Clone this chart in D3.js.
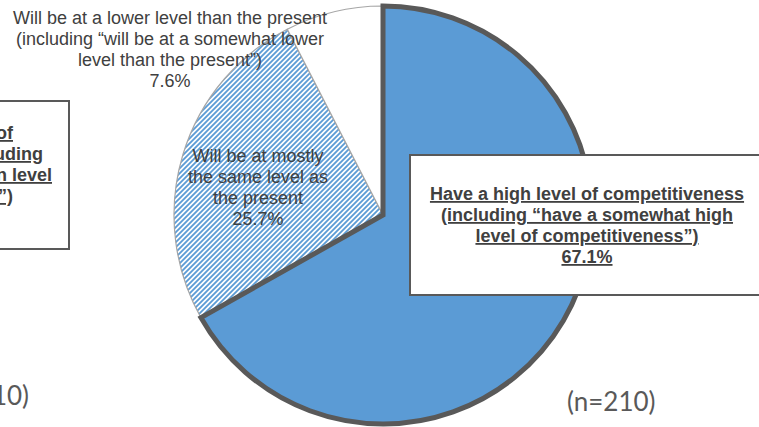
<!DOCTYPE html>
<html>
<head>
<meta charset="utf-8">
<script src="https://cdn.jsdelivr.net/npm/d3@7/dist/d3.min.js"></script>
<style>
  html, body { margin: 0; padding: 0; background: #fff; }
  svg { display: block; }
  text { font-family: "Liberation Sans", Arial, sans-serif; }
</style>
</head>
<body>
<svg id="chart" width="759" height="427"></svg>
<script>
// ---- data ----
const categories = [
  "Have a high level of competitiveness",
  "Will be at mostly the same level as the present",
  "Will be at a lower level than the present"
];
const values = [67.1, 25.7, 7.6];
const sampleLabel = "(n=210)";

const highLabelLines = [
  "Have a high level of competitiveness",
  "(including \u201chave a somewhat high",
  "level of competitiveness\u201d)",
  "67.1%"
];
const sameLabelLines = [
  "Will be at mostly",
  "the same level as",
  "the present",
  "25.7%"
];
const lowerLabelLines = [
  "Will be at a lower level than the present",
  "(including \u201cwill be at a somewhat lower",
  "level than the present\u201d)",
  "7.6%"
];
// fragments of the neighbouring (cropped) chart on the left
const leftBoxFragments = ["of", "uding", "n level", "\u201d)"];

// ---- drawing ----
const svg = d3.select("#chart");
const defs = svg.append("defs");
const pat = defs.append("pattern")
  .attr("id", "hatch")
  .attr("patternUnits", "userSpaceOnUse")
  .attr("width", 5).attr("height", 5);
pat.append("rect").attr("width", 5).attr("height", 5).attr("fill", "#fff");
pat.append("path")
  .attr("d", "M-1,1 l2,-2 M0,5 l5,-5 M4,6 l2,-2")
  .attr("stroke", "#5B9BD5").attr("stroke-width", 1.8);

const cx = 383, cy = 215, r = 209;
const pie = d3.pie().sort(null).value(d => d)(values);
const arc = d3.arc().innerRadius(0).outerRadius(r);

const fills = ["#5B9BD5", "url(#hatch)", "#ffffff"];
const g = svg.append("g").attr("transform", `translate(${cx},${cy})`);

// draw non-highlighted slices first, then the highlighted one on top
const order = [1, 2, 0];
order.forEach(i => {
  g.append("path")
    .attr("d", arc(pie[i]))
    .attr("fill", fills[i])
    .attr("stroke", i === 0 ? "#595959" : "#a6a6a6")
    .attr("stroke-width", i === 0 ? 5 : 1.2)
    .attr("stroke-linejoin", "miter");
});

function multiLine(lines, x, y0, dy, opts) {
  const t = svg.append("text")
    .attr("text-anchor", opts.anchor || "middle")
    .attr("fill", opts.color || "#404040")
    .attr("font-size", opts.size || 18)
    .attr("font-weight", opts.bold ? "bold" : "normal")
    .style("text-decoration", opts.underline ? "underline" : "none");
  lines.forEach((l, i) => {
    t.append("tspan").attr("x", x).attr("y", y0 + i * dy).text(l);
  });
  return t;
}

// lower-level label (top left of pie)
multiLine(lowerLabelLines, 170, 24, 21, {});
// same-level label (on hatched slice)
multiLine(sameLabelLines, 258, 162, 21, {});

// highlighted box
svg.append("rect")
  .attr("x", 410).attr("y", 155)
  .attr("width", 370).attr("height", 140)
  .attr("fill", "#fff")
  .attr("stroke", "#595959").attr("stroke-width", 2);
multiLine(highLabelLines, 587, 200, 21, { bold: true, underline: true });

// left cropped box from neighbouring chart
svg.append("rect")
  .attr("x", -20).attr("y", 101)
  .attr("width", 89).attr("height", 148)
  .attr("fill", "#fff")
  .attr("stroke", "#595959").attr("stroke-width", 2);
const leftEnds = [13, 43, 52, 13];
leftBoxFragments.forEach((f, i) => {
  svg.append("text")
    .attr("x", leftEnds[i]).attr("y", 139 + i * 21)
    .attr("text-anchor", "end")
    .attr("font-size", 18).attr("font-weight", "bold")
    .attr("fill", "#404040")
    .style("text-decoration", "underline")
    .text(f);
});

// sample size labels
svg.append("text")
  .attr("x", 567).attr("y", 411)
  .style("font-family", "Lato, 'Open Sans', sans-serif")
  .attr("font-size", 26).attr("fill", "#595959")
  .text(sampleLabel);
svg.append("text")
  .attr("x", 29).attr("y", 405)
  .attr("text-anchor", "end")
  .style("font-family", "Lato, 'Open Sans', sans-serif")
  .attr("font-size", 26).attr("fill", "#595959")
  .text(sampleLabel);
</script>
</body>
</html>
